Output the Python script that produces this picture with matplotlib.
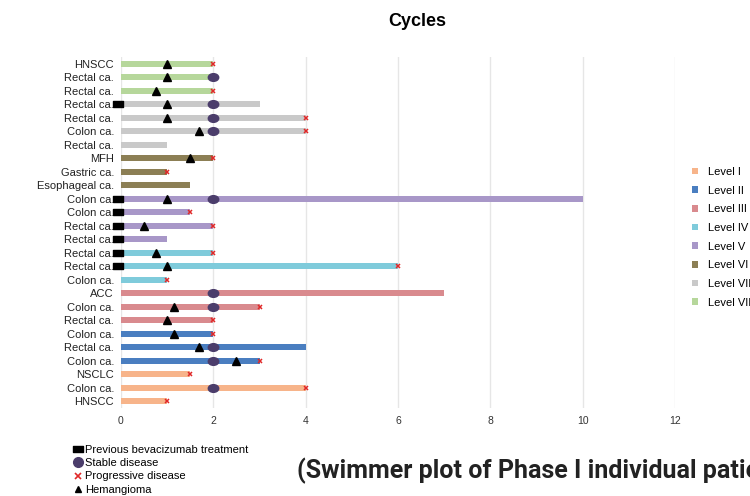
import matplotlib
matplotlib.use("Agg")
import matplotlib.pyplot as plt
import numpy as np
from matplotlib.path import Path
from matplotlib.lines import Line2D
from matplotlib.patches import Patch
import matplotlib.transforms as mtransforms

plt.rcParams["font.family"] = ["Liberation Sans", "DejaVu Sans"]

# Data listed bottom -> top
labels = ["HNSCC", "Colon ca.", "NSCLC", "Colon ca.", "Rectal ca.", "Colon ca.",
          "Rectal ca.", "Colon ca.", "ACC", "Colon ca.", "Rectal ca.", "Rectal ca.",
          "Rectal ca.", "Rectal ca.", "Colon ca.", "Colon ca.", "Esophageal ca.",
          "Gastric ca.", "MFH", "Rectal ca.", "Colon ca.", "Rectal ca.", "Rectal ca.",
          "Rectal ca.", "Rectal ca.", "HNSCC"]
levels = ["Level I", "Level I", "Level I", "Level II", "Level II", "Level II",
          "Level III", "Level III", "Level III", "Level IV", "Level IV", "Level IV",
          "Level V", "Level V", "Level V", "Level V", "Level VI", "Level VI",
          "Level VI", "Level VII", "Level VII", "Level VII", "Level VII",
          "Level VIII", "Level VIII", "Level VIII"]
cycles = [1, 4, 1.5, 3, 4, 2, 2, 3, 7, 1, 6, 2, 1, 2, 1.5, 10, 1.5, 1, 2, 1, 4, 4, 3, 2, 2, 2]

# event rows (row index, x)
sd_rows = [1, 3, 4, 7, 8, 15, 20, 21, 22, 24]
sd_x = [2, 2, 2, 2, 2, 2, 2, 2, 2, 2]
pd_rows = [0, 1, 2, 3, 5, 6, 7, 9, 10, 11, 13, 14, 17, 18, 20, 21, 23, 25]
pd_x = [1, 4, 1.5, 3, 2, 2, 3, 1, 6, 2, 2, 1.5, 1, 2, 4, 4, 2, 2]
hem_rows = [3, 4, 5, 6, 7, 10, 11, 13, 15, 18, 20, 21, 22, 23, 24, 25]
hem_x = [2.5, 1.7, 1.15, 1.0, 1.15, 1.0, 0.75, 0.5, 1.0, 1.5, 1.7, 1.0, 1.0, 0.75, 1.0, 1.0]
bev_rows = [10, 11, 12, 13, 14, 15, 22]
bev_x = -0.075

level_names = ["Level I", "Level II", "Level III", "Level IV", "Level V",
               "Level VI", "Level VII", "Level VIII"]
level_colors = ["#F7B48A", "#4A7EC0", "#D98A8E", "#7FCBDB", "#A897C8",
                "#8C7F55", "#C9C9C9", "#B6D79B"]
cmap = dict(zip(level_names, level_colors))

fig = plt.figure(figsize=(7.5, 4.96), dpi=100)
ax = fig.add_axes([121/750, 88/496, 554/750, 351/496])

y = np.arange(len(labels))
ax.barh(y, cycles, height=0.46, color=[cmap[l] for l in levels], zorder=2)

ell = Path.unit_circle().transformed(mtransforms.Affine2D().scale(1.35, 1.0))
ax.plot(sd_x, sd_rows, linestyle="none", marker=ell, markersize=7.5,
        color="#4B3D6B", zorder=4)
ax.plot(hem_x, hem_rows, linestyle="none", marker="^", markersize=5.5,
        color="black", zorder=5)
ax.plot(pd_x, pd_rows, linestyle="none", marker="x", markersize=3.5,
        markeredgewidth=1.1, color="#E02828", zorder=5)
rect = Path([(-1, -0.67), (1, -0.67), (1, 0.67), (-1, 0.67), (-1, -0.67)],
            [Path.MOVETO, Path.LINETO, Path.LINETO, Path.LINETO, Path.CLOSEPOLY])
ax.plot([bev_x] * len(bev_rows), bev_rows, linestyle="none", marker=rect,
        markersize=6.5, color="black", zorder=5, clip_on=False)

ax.set_xlim(0, 12)
ax.set_ylim(-0.5, len(labels) - 0.5)
ax.set_xticks(np.arange(0, 13, 2))
ax.set_yticks(y)
ax.set_yticklabels(labels, fontsize=8, color="#222222")
ax.tick_params(axis="x", labelsize=7.5, length=0, pad=6, colors="#333333")
ax.tick_params(axis="y", length=0, pad=5)
for s in ax.spines.values():
    s.set_visible(False)
ax.xaxis.grid(True, color="#E6E6E6", linewidth=1, zorder=0)
ax.set_axisbelow(True)

fig.text(417/750, 1 - 22/496, "Cycles", ha="center", va="center",
         fontsize=13, fontweight="bold")

# Right legend (runs off the right edge, as in the original)
handles = [Patch(facecolor=c, edgecolor="none") for c in level_colors]
fig.legend(handles, level_names, loc="upper left",
           bbox_to_anchor=(682/750, 1 - 157/496), frameon=False, fontsize=8,
           handlelength=0.55, handleheight=0.55, handletextpad=0.9,
           labelspacing=0.78)

# Bottom legend
h2 = [Line2D([], [], linestyle="none", marker=rect, markersize=7, color="black"),
      Line2D([], [], linestyle="none", marker="o", markersize=7, color="#4B3D6B"),
      Line2D([], [], linestyle="none", marker="x", markersize=4,
             markeredgewidth=1.2, color="#E02828"),
      Line2D([], [], linestyle="none", marker="^", markersize=5, color="black")]
l2 = ["Previous bevacizumab treatment", "Stable disease", "Progressive disease",
      "Hemangioma"]
fig.legend(h2, l2, loc="upper left", bbox_to_anchor=(67/750, 1 - 437/496),
           frameon=False, fontsize=8, handlelength=0.6, handletextpad=0.3,
           labelspacing=0.3, borderpad=0.2)

fig.text(297/750, 1 - 478/496, "(Swimmer plot of Phase I individual patients)",
         ha="left", va="baseline", fontsize=18, fontweight="bold", color="#222222",
         family="Roboto")

fig.savefig("out.png", dpi=100)
